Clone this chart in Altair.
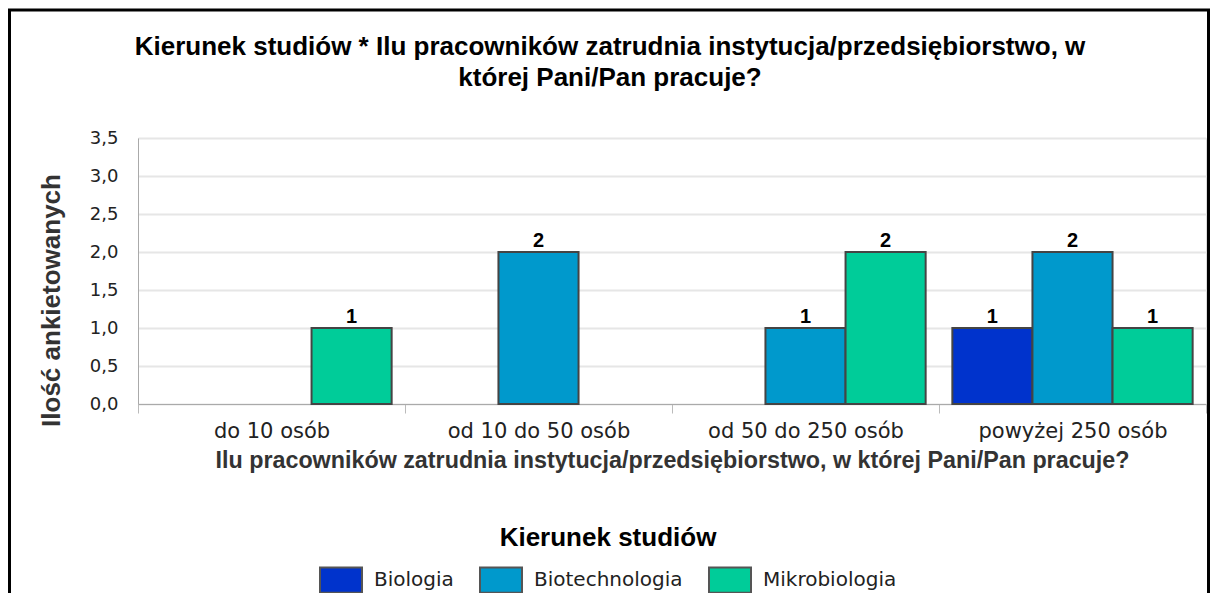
import altair as alt
import pandas as pd

categories = ["do 10 osób", "od 10 do 50 osób", "od 50 do 250 osób", "powyżej 250 osób"]
series = ["Biologia", "Biotechnologia", "Mikrobiologia"]
colors = ["#0033cc", "#0099cc", "#00cc99"]

# (category, series, value) — only non-zero counts are drawn
row_category = ["do 10 osób", "od 10 do 50 osób", "od 50 do 250 osób", "od 50 do 250 osób",
                "powyżej 250 osób", "powyżej 250 osób", "powyżej 250 osób"]
row_series = ["Mikrobiologia", "Biotechnologia", "Biotechnologia", "Mikrobiologia",
              "Biologia", "Biotechnologia", "Mikrobiologia"]
row_value = [1, 2, 1, 2, 1, 2, 1]

y_ticks = [0, 0.5, 1.0, 1.5, 2.0, 2.5, 3.0, 3.5]

title_lines = ["Kierunek studiów * Ilu pracowników zatrudnia instytucja/przedsiębiorstwo, w",
               "której Pani/Pan pracuje?"]
x_title = "Ilu pracowników zatrudnia instytucja/przedsiębiorstwo, w której Pani/Pan pracuje?"
y_title = "Ilość ankietowanych"
legend_title = "Kierunek studiów"

df = pd.DataFrame({"cat": row_category, "ser": row_series, "val": row_value})

W, H = 1068, 266
PAD_L, PAD_T, PAD_R, PAD_B = 130, 130, 4, 189

x_enc = alt.X("cat:N", sort=categories, scale=alt.Scale(domain=categories, paddingInner=0, paddingOuter=0),
              axis=alt.Axis(title=x_title, labelAngle=0, labelFont="DejaVu Sans", labelFontSize=21,
                            labelLimit=600, labelColor="#222", labelPadding=7, tickBand="extent",
                            tickSize=9, tickColor="#bbb", domainColor="#aaa",
                            titleFont="Liberation Sans", titleFontSize=23.3, titleFontWeight="bold",
                            titleColor="#333", titleLimit=1200, titlePadding=8, grid=False))
xo_enc = alt.XOffset("ser:N", scale=alt.Scale(domain=series, paddingInner=0, paddingOuter=1 / 6))
y_axis = alt.Axis(title=y_title, values=y_ticks, tickCount=20, labelOverlap=False,
                  labelExpr="replace(format(datum.value, '.1f'), '.', ',')",
                  labelFont="DejaVu Sans", labelFontSize=18, labelColor="#222",
                  ticks=False, labelPadding=20, domainColor="#aaa",
                  gridColor="#e6e6e6", gridWidth=2,
                  titleFont="Liberation Sans", titleFontSize=26, titleFontWeight="bold",
                  titleColor="#333", titleAngle=-90, titleX=-87, titleY=162,
                  titleAlign="center", titleBaseline="middle", titleLimit=600)
y_enc = alt.Y("val:Q", scale=alt.Scale(domain=[0, 3.5], nice=False, zero=True), axis=y_axis)

bars = alt.Chart(df).mark_bar(stroke="#444", strokeWidth=2).encode(
    x=x_enc, xOffset=xo_enc, y=y_enc,
    color=alt.Color("ser:N", scale=alt.Scale(domain=series, range=colors),
                    legend=alt.Legend(title=legend_title, orient="none", legendX=181, legendY=387,
                                      direction="horizontal", titleAnchor="middle",
                                      titleFont="Liberation Sans", titleFontSize=26,
                                      titleFontWeight="bold", titleColor="black", titlePadding=7,
                                      titleLimit=600, labelLimit=400,
                                      labelFont="DejaVu Sans", labelFontSize=20, labelColor="#222",
                                      labelOffset=11, columnPadding=22,
                                      symbolType="M-1,-0.6H1V0.6H-1Z", symbolSize=1764,
                                      symbolStrokeColor="#555", symbolStrokeWidth=2,
                                      symbolOpacity=1)),
)

labels = alt.Chart(df).mark_text(dy=-5, baseline="alphabetic", font="Liberation Sans",
                                  fontSize=20, fontWeight="bold", color="black").encode(
    x=x_enc, xOffset=xo_enc, y=y_enc, text="val:Q"
)

frame = alt.Chart(pd.DataFrame({"f": [0]})).mark_rect(fill=None, stroke="black", strokeWidth=3).encode(
    x=alt.value(-128.5), x2=alt.value(W + 2.5), y=alt.value(-128), y2=alt.value(H + PAD_B + 10)
)

chart = alt.layer(bars, labels, frame).properties(
    width=W, height=H,
    title=alt.TitleParams(text=title_lines, anchor="middle", fontSize=26, font="Liberation Sans",
                          fontWeight="bold", color="black", lineHeight=31, offset=-82.5, dx=-62),
    autosize=alt.AutoSizeParams(type="none"),
    padding={"left": PAD_L, "top": PAD_T, "right": PAD_R, "bottom": PAD_B},
).configure_view(stroke="#ddd").configure(background="white")

chart.save("out.html", embed_options={"renderer": "svg", "actions": False})
